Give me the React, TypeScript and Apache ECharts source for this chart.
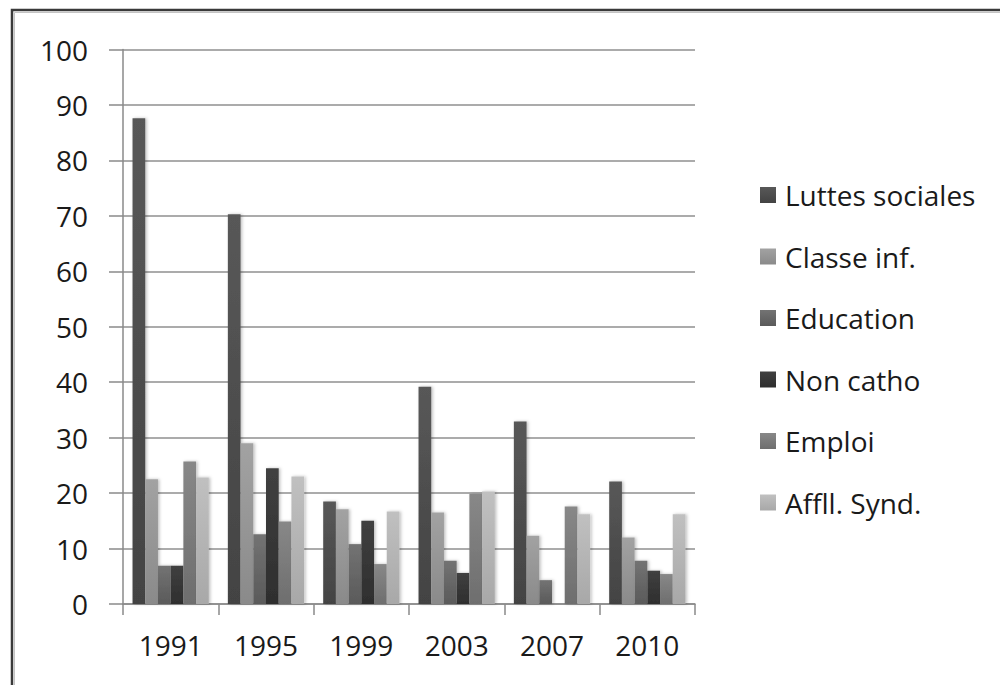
import React, { useEffect, useRef } from "react";
import * as echarts from "echarts";

// Survey years on the category axis
const years = ["1991", "1995", "1999", "2003", "2007", "2010"];

// Series values per year (percent)
const luttesSociales = [87.6, 70.3, 18.5, 39.2, 32.9, 22.1];
const classeInf = [22.5, 29.0, 17.1, 16.5, 12.3, 12.0];
const education = [6.9, 12.6, 10.8, 7.8, 4.3, 7.8];
const nonCatho = [6.9, 24.5, 15.0, 5.6, 0, 6.0];
const emploi = [25.7, 14.9, 7.2, 19.9, 17.6, 5.4];
const affilSynd = [22.8, 23.0, 16.7, 20.3, 16.2, 16.2];

const seriesNames = [
  "Luttes sociales",
  "Classe inf.",
  "Education",
  "Non catho",
  "Emploi",
  "Affll. Synd.",
];
const seriesData = [luttesSociales, classeInf, education, nonCatho, emploi, affilSynd];

// Top / bottom shades of each bar's vertical gradient
const shades: [string, string][] = [
  ["#585858", "#434343"],
  ["#a2a2a2", "#8a8a8a"],
  ["#737373", "#5a5a5a"],
  ["#404040", "#2e2e2e"],
  ["#888888", "#6e6e6e"],
  ["#c0c0c0", "#a8a8a8"],
];

const FONT = "'Open Sans', Lato, sans-serif";
const FONT_SIZE = 28;

export default function App() {
  const ref = useRef<HTMLDivElement>(null);

  useEffect(() => {
    if (!ref.current) return;
    const chart = echarts.init(ref.current, undefined, { renderer: "svg" });

    chart.setOption({
      animation: false,
      backgroundColor: "#ffffff",
      textStyle: { fontFamily: FONT },
      grid: { left: 123, top: 49.5, right: 305, bottom: 81, containLabel: false },
      legend: {
        orient: "vertical",
        left: 755,
        top: 176,
        itemWidth: 16,
        itemHeight: 16,
        itemGap: 33.5,
        icon: "rect",
        data: seriesNames,
        textStyle: {
          fontFamily: FONT,
          fontSize: FONT_SIZE,
          lineHeight: 28,
          color: "#1a1a1a",
          padding: [0, 0, 0, 4],
        },
      },
      xAxis: {
        type: "category",
        data: years,
        axisLine: { lineStyle: { color: "#8a8a8a", width: 1.5 } },
        axisTick: { show: true, length: 11, lineStyle: { color: "#8a8a8a", width: 1.5 } },
        axisLabel: { fontFamily: FONT, fontSize: FONT_SIZE, color: "#1a1a1a", margin: 27 },
      },
      yAxis: {
        type: "value",
        min: 0,
        max: 100,
        interval: 10,
        axisLine: { show: true, lineStyle: { color: "#8a8a8a", width: 1.5 } },
        axisTick: { show: true, length: 14, lineStyle: { color: "#8a8a8a", width: 1.5 } },
        axisLabel: { fontFamily: FONT, fontSize: FONT_SIZE, color: "#1a1a1a", margin: 35 },
        splitLine: { lineStyle: { color: "#8f8f8f", width: 1.5 } },
      },
      series: seriesNames.map((name, i) => ({
        name,
        type: "bar",
        data: seriesData[i],
        barGap: "0%",
        barCategoryGap: "20%",
        itemStyle: {
          color: new echarts.graphic.LinearGradient(0, 0, 0, 1, [
            { offset: 0, color: shades[i][0] },
            { offset: 1, color: shades[i][1] },
          ]),
          shadowBlur: 3,
          shadowOffsetX: 1.5,
          shadowColor: "rgba(0,0,0,0.25)",
        },
      })),
      graphic: [
        {
          type: "rect",
          shape: { x: 12, y: 10, width: 1010, height: 700 },
          style: { fill: "none", stroke: "#3a3a3a", lineWidth: 2.5 },
          silent: true,
        },
        {
          type: "rect",
          shape: { x: 14.5, y: 12.5, width: 1010, height: 700 },
          style: { fill: "none", stroke: "#c4c4c4", lineWidth: 1 },
          silent: true,
        },
      ],
    });

    return () => chart.dispose();
  }, []);

  return (
    <div
      ref={ref}
      style={{ position: "absolute", left: 0, top: 0, width: 1000, height: 685 }}
    />
  );
}
